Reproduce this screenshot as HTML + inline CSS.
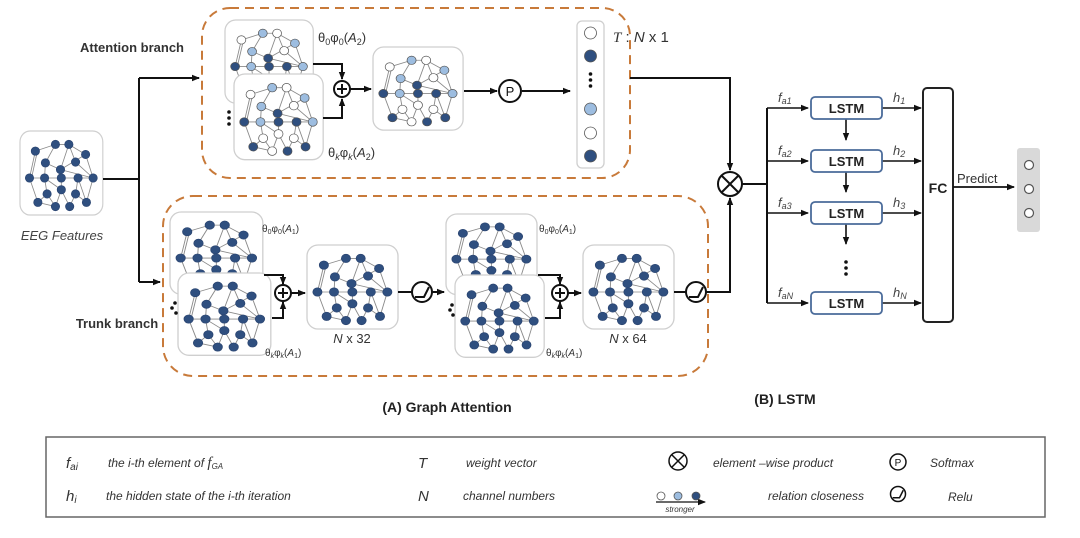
<!DOCTYPE html>
<html><head><meta charset="utf-8"><style>
html,body{margin:0;padding:0;background:#fff;}
svg{display:block;}
text{font-family:"Liberation Sans",sans-serif;}
</style></head><body>
<svg width="1080" height="538" viewBox="0 0 1080 538" xmlns="http://www.w3.org/2000/svg">
<defs>
<marker id="ar" markerWidth="8" markerHeight="8" refX="7" refY="4" orient="auto" markerUnits="userSpaceOnUse"><path d="M0,0.8 L8,4 L0,7.2 z" fill="#111"/></marker>
<g id="edges" stroke="#8a8a8a" stroke-width="1" fill="none">
<path d="M14,18 L38,10 L54,10 L74,22 M38,10 L26,32 M54,10 L62,31 M74,22 L83,50 M62,31 L83,50 M44,40 L83,50 M44,40 L54,10 M14,18 L7,50 M16,20 L9,52 M7,50 L83,50 M26,32 L25,50 M25,50 L28,69 M28,69 L17,79 M7,50 L17,79 M28,69 L38,84 M45,64 L38,84 M45,64 L55,84 M62,69 L55,84 M62,69 L75,79 M83,50 L75,79 M65,50 L62,69 M45,50 L45,64 M17,79 L38,84 M74,22 L44,40 M65,50 L75,79 M26,32 L44,40 M25,50 L45,64"/>
</g>
<g id="gd">
<rect x="0" y="0" width="91" height="84" rx="11" fill="#fff" stroke="#cfcfcf" stroke-width="1.3"/>
<g transform="translate(4,5) scale(0.92,0.84)">
<use href="#edges"/>
<g fill="#2f4f7f" stroke="#2a4470" stroke-width="0.8">
<circle cx="14" cy="18" r="5"/><circle cx="38" cy="10" r="5"/><circle cx="54" cy="10" r="5"/><circle cx="74" cy="22" r="5"/>
<circle cx="26" cy="32" r="5"/><circle cx="62" cy="31" r="5"/><circle cx="44" cy="40" r="5"/>
<circle cx="7" cy="50" r="5"/><circle cx="25" cy="50" r="5"/><circle cx="45" cy="50" r="5"/><circle cx="65" cy="50" r="5"/><circle cx="83" cy="50" r="5"/>
<circle cx="28" cy="69" r="5"/><circle cx="45" cy="64" r="5"/><circle cx="62" cy="69" r="5"/>
<circle cx="17" cy="79" r="5"/><circle cx="38" cy="84" r="5"/><circle cx="55" cy="84" r="5"/><circle cx="75" cy="79" r="5"/>
</g>
</g>
</g>
<g id="gm">
<rect x="0" y="0" width="91" height="84" rx="11" fill="#fff" stroke="#cfcfcf" stroke-width="1.3"/>
<g transform="translate(4,5) scale(0.92,0.84)">
<use href="#edges"/>
<g stroke="#555" stroke-width="0.8">
<circle cx="14" cy="18" r="5" fill="#fff"/><circle cx="38" cy="10" r="5" fill="#9dbde0"/><circle cx="54" cy="10" r="5" fill="#fff"/><circle cx="74" cy="22" r="5" fill="#9dbde0"/>
<circle cx="26" cy="32" r="5" fill="#9dbde0"/><circle cx="62" cy="31" r="5" fill="#fff"/><circle cx="44" cy="40" r="5" fill="#2f4f7f"/>
<circle cx="7" cy="50" r="5" fill="#2f4f7f"/><circle cx="25" cy="50" r="5" fill="#9dbde0"/><circle cx="45" cy="50" r="5" fill="#2f4f7f"/><circle cx="65" cy="50" r="5" fill="#2f4f7f"/><circle cx="83" cy="50" r="5" fill="#9dbde0"/>
<circle cx="28" cy="69" r="5" fill="#fff"/><circle cx="45" cy="64" r="5" fill="#fff"/><circle cx="62" cy="69" r="5" fill="#fff"/>
<circle cx="17" cy="79" r="5" fill="#2f4f7f"/><circle cx="38" cy="84" r="5" fill="#fff"/><circle cx="55" cy="84" r="5" fill="#2f4f7f"/><circle cx="75" cy="79" r="5" fill="#2f4f7f"/>
</g>
</g>
</g>
<g id="plus"><circle r="8" fill="#fff" stroke="#111" stroke-width="2"/><path d="M-5,0 H5 M0,-5 V5" stroke="#111" stroke-width="2"/></g>
<g id="relu"><circle r="10" fill="#fff" stroke="#111" stroke-width="2"/><path d="M-7,5 L2,5 L7,-5" stroke="#111" stroke-width="2" fill="none"/></g>
<g id="otimes"><circle r="12" fill="#fff" stroke="#111" stroke-width="2"/><path d="M-8,-8 L8,8 M8,-8 L-8,8" stroke="#111" stroke-width="2"/></g>
</defs>

<rect x="202" y="8" width="428" height="170" rx="28" fill="none" stroke="#c87a3a" stroke-width="2" stroke-dasharray="9,6"/>
<rect x="163" y="196" width="545" height="180" rx="30" fill="none" stroke="#c87a3a" stroke-width="2" stroke-dasharray="9,6"/>

<g transform="translate(20,131) scale(0.91,1.0)"><use href="#gd"/></g>
<text x="62" y="240" font-size="13" font-style="italic" fill="#444" text-anchor="middle">EEG Features</text>
<text x="132" y="52" font-size="13" font-weight="bold" fill="#333" text-anchor="middle">Attention branch</text>
<text x="117" y="328" font-size="13" font-weight="bold" fill="#333" text-anchor="middle">Trunk branch</text>
<path d="M103,179 H139 M139,78 V282" stroke="#111" stroke-width="2" fill="none"/>
<path d="M139,78 H199" stroke="#111" stroke-width="2" marker-end="url(#ar)"/>
<path d="M139,282 H160" stroke="#111" stroke-width="2" marker-end="url(#ar)"/>

<g transform="translate(225,20) scale(0.97,0.99)"><use href="#gm"/></g>
<g transform="translate(234,74) scale(0.98,1.02)"><use href="#gm"/></g>
<circle cx="229" cy="112" r="1.8" fill="#111"/><circle cx="229" cy="118" r="1.8" fill="#111"/><circle cx="229" cy="124" r="1.8" fill="#111"/>
<text x="318" y="42" font-size="13" font-family="Liberation Serif" fill="#333">θ<tspan font-size="9" dy="3">0</tspan><tspan dy="-3">φ</tspan><tspan font-size="9" dy="3">0</tspan><tspan dy="-3">(</tspan><tspan font-style="italic">A</tspan><tspan font-size="9" dy="3">2</tspan><tspan dy="-3">)</tspan></text>
<text x="328" y="157" font-size="13" font-family="Liberation Serif" fill="#333">θ<tspan font-size="9" dy="3" font-style="italic">k</tspan><tspan dy="-3">φ</tspan><tspan font-size="9" dy="3" font-style="italic">k</tspan><tspan dy="-3">(</tspan><tspan font-style="italic">A</tspan><tspan font-size="9" dy="3">2</tspan><tspan dy="-3">)</tspan></text>
<path d="M313,64 H342 V79" stroke="#111" stroke-width="2" fill="none" marker-end="url(#ar)"/>
<path d="M323,118 H342 V99" stroke="#111" stroke-width="2" fill="none" marker-end="url(#ar)"/>
<use href="#plus" x="342" y="89"/>
<path d="M350,89 H371" stroke="#111" stroke-width="2" marker-end="url(#ar)"/>
<g transform="translate(373,47) scale(0.99,0.99)"><use href="#gm"/></g>
<path d="M464,91 H497" stroke="#111" stroke-width="2" marker-end="url(#ar)"/>
<circle cx="510" cy="91" r="11" fill="#fff" stroke="#111" stroke-width="2"/>
<text x="510" y="96" font-size="13" text-anchor="middle" fill="#111">P</text>
<path d="M522,91 H570" stroke="#111" stroke-width="2" marker-end="url(#ar)"/>
<rect x="577" y="21" width="27" height="147" rx="5" fill="#fff" stroke="#cfcfcf" stroke-width="1.3"/>
<g stroke="#555" stroke-width="0.8">
<circle cx="590.5" cy="33" r="6" fill="#fff"/><circle cx="590.5" cy="56" r="6" fill="#2f4f7f"/>
<circle cx="590.5" cy="109" r="6" fill="#9dbde0"/><circle cx="590.5" cy="133" r="6" fill="#fff"/><circle cx="590.5" cy="156" r="6" fill="#2f4f7f"/>
</g>
<circle cx="590.5" cy="74" r="1.8" fill="#111"/><circle cx="590.5" cy="80" r="1.8" fill="#111"/><circle cx="590.5" cy="86" r="1.8" fill="#111"/>
<text x="613" y="42" font-size="15" fill="#333"><tspan font-family="Liberation Serif" font-style="italic">T</tspan> : <tspan font-style="italic">N</tspan> x 1</text>
<path d="M630,78 H730 V170" stroke="#111" stroke-width="2" fill="none" marker-end="url(#ar)"/>

<g transform="translate(170,212) scale(1.02,0.98)"><use href="#gd"/></g>
<g transform="translate(178,273) scale(1.02,0.98)"><use href="#gd"/></g>
<circle cx="175" cy="303" r="1.8" fill="#111"/><circle cx="172" cy="308" r="1.8" fill="#111"/><circle cx="176" cy="313" r="1.8" fill="#111"/>
<text x="262" y="232" font-size="10" font-family="Liberation Serif" fill="#333">θ<tspan font-size="7" dy="2">0</tspan><tspan dy="-2">φ</tspan><tspan font-size="7" dy="2">0</tspan><tspan dy="-2">(</tspan><tspan font-style="italic">A</tspan><tspan font-size="7" dy="2">1</tspan><tspan dy="-2">)</tspan></text>
<text x="265" y="356" font-size="10" font-family="Liberation Serif" fill="#333">θ<tspan font-size="7" dy="2" font-style="italic">k</tspan><tspan dy="-2">φ</tspan><tspan font-size="7" dy="2" font-style="italic">k</tspan><tspan dy="-2">(</tspan><tspan font-style="italic">A</tspan><tspan font-size="7" dy="2">1</tspan><tspan dy="-2">)</tspan></text>
<path d="M264,275 H283 V284" stroke="#111" stroke-width="2" fill="none" marker-end="url(#ar)"/>
<path d="M272,318 H283 V302" stroke="#111" stroke-width="2" fill="none" marker-end="url(#ar)"/>
<use href="#plus" x="283" y="293"/>
<path d="M291,293 H305" stroke="#111" stroke-width="2" marker-end="url(#ar)"/>
<use href="#gd" x="307" y="245"/>
<text x="352" y="343" font-size="13" fill="#333" text-anchor="middle"><tspan font-style="italic">N</tspan> x 32</text>
<path d="M398,292 H412" stroke="#111" stroke-width="2"/>
<use href="#relu" x="422" y="292"/>
<path d="M432,292 H444" stroke="#111" stroke-width="2" marker-end="url(#ar)"/>
<g transform="translate(446,214) scale(1.0,0.96)"><use href="#gd"/></g>
<g transform="translate(455,275) scale(0.98,0.98)"><use href="#gd"/></g>
<circle cx="452" cy="305" r="1.8" fill="#111"/><circle cx="450" cy="310" r="1.8" fill="#111"/><circle cx="453" cy="315" r="1.8" fill="#111"/>
<text x="539" y="232" font-size="10" font-family="Liberation Serif" fill="#333">θ<tspan font-size="7" dy="2">0</tspan><tspan dy="-2">φ</tspan><tspan font-size="7" dy="2">0</tspan><tspan dy="-2">(</tspan><tspan font-style="italic">A</tspan><tspan font-size="7" dy="2">1</tspan><tspan dy="-2">)</tspan></text>
<text x="546" y="356" font-size="10" font-family="Liberation Serif" fill="#333">θ<tspan font-size="7" dy="2" font-style="italic">k</tspan><tspan dy="-2">φ</tspan><tspan font-size="7" dy="2" font-style="italic">k</tspan><tspan dy="-2">(</tspan><tspan font-style="italic">A</tspan><tspan font-size="7" dy="2">1</tspan><tspan dy="-2">)</tspan></text>
<path d="M538,275 H560 V284" stroke="#111" stroke-width="2" fill="none" marker-end="url(#ar)"/>
<path d="M545,318 H560 V302" stroke="#111" stroke-width="2" fill="none" marker-end="url(#ar)"/>
<use href="#plus" x="560" y="293"/>
<path d="M568,293 H581" stroke="#111" stroke-width="2" marker-end="url(#ar)"/>
<use href="#gd" x="583" y="245"/>
<text x="628" y="343" font-size="13" fill="#333" text-anchor="middle"><tspan font-style="italic">N</tspan> x 64</text>
<path d="M674,292 H686" stroke="#111" stroke-width="2"/>
<use href="#relu" x="696" y="292"/>
<path d="M706,292 H730 V198" stroke="#111" stroke-width="2" fill="none" marker-end="url(#ar)"/>
<use href="#otimes" x="730" y="184"/>

<path d="M742,184 H767 M767,108 V303" stroke="#111" stroke-width="2" fill="none"/>
<g stroke="#111" stroke-width="1.6" fill="none">
<path d="M767,108 H808" marker-end="url(#ar)"/><path d="M767,161 H808" marker-end="url(#ar)"/>
<path d="M767,213 H808" marker-end="url(#ar)"/><path d="M767,303 H808" marker-end="url(#ar)"/>
<path d="M882,108 H921" marker-end="url(#ar)"/><path d="M882,161 H921" marker-end="url(#ar)"/>
<path d="M882,213 H921" marker-end="url(#ar)"/><path d="M882,303 H921" marker-end="url(#ar)"/>
<path d="M846,119 V140" marker-end="url(#ar)"/><path d="M846,172 V192" marker-end="url(#ar)"/><path d="M846,224 V244" marker-end="url(#ar)"/>
</g>
<g fill="#fff" stroke="#4a6b9a" stroke-width="1.8">
<rect x="811" y="97" width="71" height="22" rx="4"/><rect x="811" y="150" width="71" height="22" rx="4"/>
<rect x="811" y="202" width="71" height="22" rx="4"/><rect x="811" y="292" width="71" height="22" rx="4"/>
</g>
<g font-size="13" font-weight="bold" fill="#222" text-anchor="middle">
<text x="846.5" y="113">LSTM</text><text x="846.5" y="166">LSTM</text><text x="846.5" y="218">LSTM</text><text x="846.5" y="308">LSTM</text>
</g>
<circle cx="846" cy="262" r="1.8" fill="#111"/><circle cx="846" cy="268" r="1.8" fill="#111"/><circle cx="846" cy="274" r="1.8" fill="#111"/>
<g font-family="Liberation Serif" font-style="italic" font-size="13" fill="#444">
<text x="778" y="102">f<tspan font-size="9" dy="2">a1</tspan></text>
<text x="778" y="155">f<tspan font-size="9" dy="2">a2</tspan></text>
<text x="778" y="207">f<tspan font-size="9" dy="2">a3</tspan></text>
<text x="778" y="297">f<tspan font-size="9" dy="2">aN</tspan></text>
<text x="893" y="102">h<tspan font-size="9" dy="2">1</tspan></text>
<text x="893" y="155">h<tspan font-size="9" dy="2">2</tspan></text>
<text x="893" y="207">h<tspan font-size="9" dy="2">3</tspan></text>
<text x="893" y="297">h<tspan font-size="9" dy="2">N</tspan></text>
</g>
<rect x="923" y="88" width="30" height="234" rx="4" fill="#fff" stroke="#222" stroke-width="2"/>
<text x="938" y="193" font-size="14" font-weight="bold" text-anchor="middle" fill="#222">FC</text>
<path d="M953,187 H1014" stroke="#111" stroke-width="1.8" marker-end="url(#ar)"/>
<text x="957" y="183" font-size="13" fill="#333">Predict</text>
<rect x="1017" y="148" width="23" height="84" rx="3" fill="#d9d9d9"/>
<g fill="#fff" stroke="#555" stroke-width="1.2"><circle cx="1029" cy="165" r="4.5"/><circle cx="1029" cy="189" r="4.5"/><circle cx="1029" cy="213" r="4.5"/></g>

<text x="447" y="412" font-size="14" font-weight="bold" text-anchor="middle" fill="#222">(A) Graph Attention</text>
<text x="785" y="404" font-size="14" font-weight="bold" text-anchor="middle" fill="#222">(B) LSTM</text>

<rect x="46" y="437" width="999" height="80" fill="#fff" stroke="#666" stroke-width="1.5"/>
<g font-style="italic" font-size="12" fill="#333">
<text x="66" y="468" font-family="Liberation Serif" font-size="15">f<tspan font-size="10" dy="2">ai</tspan></text>
<text x="108" y="467">the i-th element  of  <tspan font-family="Liberation Serif" font-size="15">f</tspan><tspan font-size="8" dy="2">GA</tspan></text>
<text x="66" y="501" font-family="Liberation Serif" font-size="15">h<tspan font-size="10" dy="2">i</tspan></text>
<text x="106" y="500">the hidden state of the i-th iteration</text>
<text x="418" y="468" font-family="Liberation Serif" font-size="15">T</text>
<text x="466" y="467">weight vector</text>
<text x="418" y="501" font-family="Liberation Serif" font-size="15">N</text>
<text x="463" y="500">channel numbers</text>
<text x="713" y="467">element –wise product</text>
<text x="768" y="500">relation closeness</text>
<text x="930" y="467">Softmax</text>
<text x="948" y="501">Relu</text>
<text x="680" y="512" font-size="8" text-anchor="middle">stronger</text>
</g>
<g transform="translate(678,461) scale(0.75)"><use href="#otimes"/></g>
<circle cx="898" cy="462" r="8" fill="#fff" stroke="#111" stroke-width="1.5"/>
<text x="898" y="466" font-size="10" text-anchor="middle" fill="#111">P</text>
<g transform="translate(898,494) scale(0.75)"><use href="#relu"/></g>
<path d="M656,502 H705" stroke="#111" stroke-width="1.2" marker-end="url(#ar)"/>
<g stroke="#555" stroke-width="0.8"><circle cx="661" cy="496" r="4" fill="#fff"/><circle cx="678" cy="496" r="4" fill="#9dbde0"/><circle cx="696" cy="496" r="4" fill="#2f4f7f"/></g>
</svg>
</body></html>
